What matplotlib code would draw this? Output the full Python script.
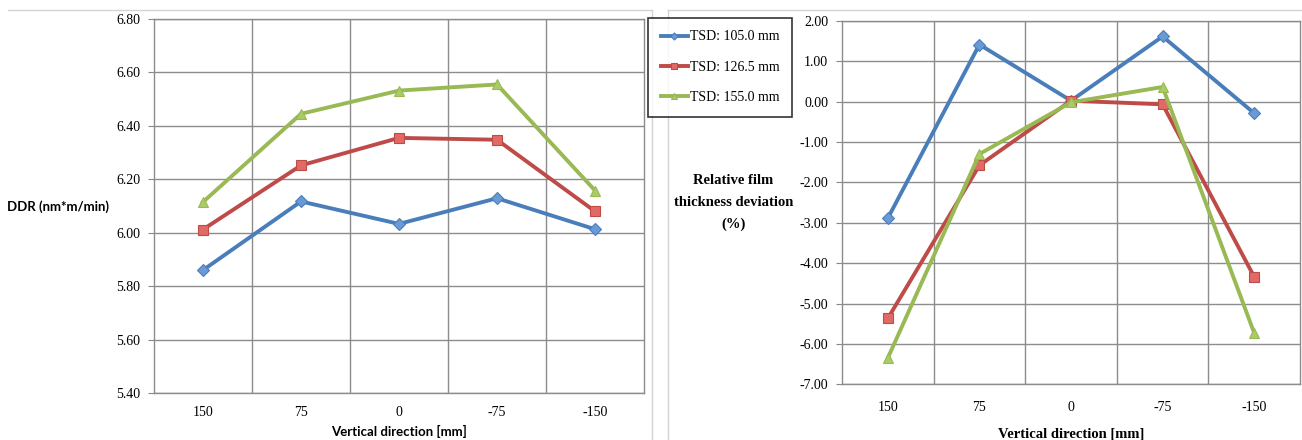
import matplotlib
matplotlib.use('Agg')
import matplotlib.pyplot as plt
from matplotlib.lines import Line2D

# data
positions = ['150', '75', '0', '-75', '-150']
series_names = ['TSD: 105.0 mm', 'TSD: 126.5 mm', 'TSD: 155.0 mm']

ddr_105 = [5.86, 6.117, 6.033, 6.129, 6.013]
ddr_126 = [6.012, 6.252, 6.355, 6.348, 6.08]
ddr_155 = [6.115, 6.445, 6.532, 6.555, 6.158]

dev_105 = [-2.89, 1.41, 0.02, 1.61, -0.29]
dev_126 = [-5.37, -1.58, 0.02, -0.07, -4.34]
dev_155 = [-6.35, -1.30, -0.02, 0.36, -5.73]

ddr_ticks = [5.40, 5.60, 5.80, 6.00, 6.20, 6.40, 6.60, 6.80]
dev_ticks = [-7.0, -6.0, -5.0, -4.0, -3.0, -2.0, -1.0, 0.0, 1.0, 2.0]

colors = ['#4a7ebb', '#be4b48', '#98b954']
faces = ['#6a9ad6', '#e26a66', '#aacc66']
markers = ['D', 's', '^']
msizes = [6, 7.5, 7.5]

W, H = 1302, 440
fig = plt.figure(figsize=(W / 100, H / 100), dpi=100)
serif = 'Liberation Serif'
sans = 'Lato'


def ax_rect(x0, y0, x1, y1):
    return [x0 / W, 1 - y1 / H, (x1 - x0) / W, (y1 - y0) / H]


def style_axes(ax, ticks, xpad):
    x = list(range(len(positions)))
    ax.set_xlim(-0.5, len(positions) - 0.5)
    ax.set_ylim(ticks[0], ticks[-1])
    ax.set_yticks(ticks)
    ax.set_yticklabels(['%.2f' % t for t in ticks], fontfamily=serif, fontsize=10)
    ax.set_xticks(x)
    ax.set_xticklabels(positions, fontfamily=serif, fontsize=10)
    ax.set_xticks([i + 0.5 for i in x[:-1]], minor=True)
    ax.tick_params(axis='x', which='both', length=0, pad=xpad)
    ax.tick_params(axis='y', length=4, color='#888888', pad=6)
    ax.grid(False)
    for t in ticks:
        ax.axhline(t, color='#8c8c8c', lw=1, zorder=0)
    for xm in ax.get_xticks(minor=True):
        ax.axvline(xm, color='#8c8c8c', lw=1, zorder=0)
    for s in ax.spines.values():
        s.set_color('#8c8c8c')
        s.set_linewidth(1)


# left chart: DDR
ax1 = fig.add_axes(ax_rect(154, 19, 644, 393))
style_axes(ax1, ddr_ticks, 9)
x = range(len(positions))
for vals, c, f, m, ms, name in zip([ddr_105, ddr_126, ddr_155], colors, faces, markers, msizes, series_names):
    ax1.plot(x, vals, color=c, lw=2.8, marker=m, ms=ms, mfc=f, mec=c, mew=0.8, label=name, zorder=3)
ax1.set_ylabel('DDR (nm*m/min)', fontfamily=sans, fontweight='bold', fontsize=9.5,
               rotation=0, ha='center', va='center')
ax1.yaxis.set_label_coords(-0.196, 0.497)
ax1.set_xlabel('Vertical direction [mm]', fontfamily=sans, fontweight='bold', fontsize=9.5,
               va='center')
ax1.xaxis.set_label_coords(0.5, -0.104)

# right chart: relative deviation
ax2 = fig.add_axes(ax_rect(842, 20.7, 1300, 384.3))
style_axes(ax2, dev_ticks, 12)
handles = []
for vals, c, f, m, ms, name in zip([dev_105, dev_126, dev_155], colors, faces, markers, msizes, series_names):
    h, = ax2.plot(x, vals, color=c, lw=2.8, marker=m, ms=ms, mfc=f, mec=c, mew=0.8, label=name, zorder=3)
    handles.append(h)
ax2.set_ylabel('Relative film\nthickness deviation\n(%)', fontfamily=serif, fontweight='bold', fontsize=10.5,
               rotation=0, ha='center', va='center', linespacing=1.9)
ax2.yaxis.set_label_coords(-0.237, 0.5)
ax2.set_xlabel('Vertical direction [mm]', fontfamily=serif, fontweight='bold', fontsize=10.5,
               va='center')
ax2.xaxis.set_label_coords(0.5, -0.137)

# legend
leg = fig.legend(handles=handles, loc='upper left', bbox_to_anchor=(648 / W, 1 - 18 / H),
                 prop={'family': serif, 'size': 10}, frameon=True, fancybox=False,
                 handlelength=2.0, handletextpad=0.1, labelspacing=1.25,
                 borderpad=0.9, borderaxespad=0, markerscale=0.6)
leg.get_frame().set_edgecolor('black')
leg.get_frame().set_linewidth(1.2)

# chart area borders
border = '#d4d4d4'
fig.add_artist(Line2D([8 / W, 652 / W], [1 - 10 / H, 1 - 10 / H], color=border, lw=1))
fig.add_artist(Line2D([652 / W, 652 / W], [0, 1 - 10 / H], color=border, lw=1))
fig.add_artist(Line2D([668 / W, 1], [1 - 10 / H, 1 - 10 / H], color=border, lw=1))
fig.add_artist(Line2D([668 / W, 668 / W], [0, 1 - 10 / H], color=border, lw=1))

fig.savefig('out.png', dpi=100)
